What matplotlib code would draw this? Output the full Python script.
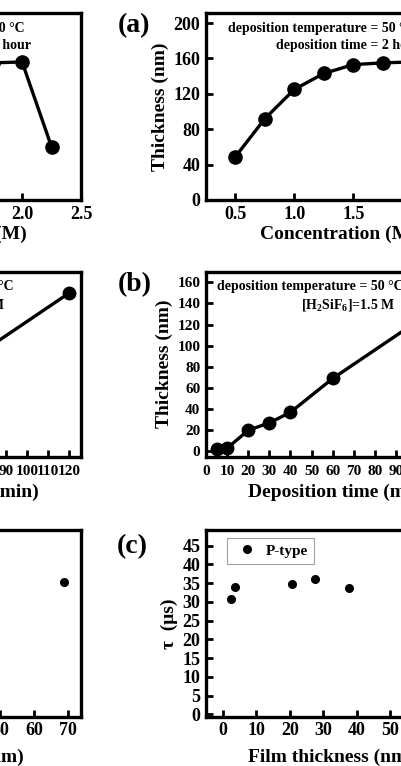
import matplotlib
matplotlib.use('Agg')
import matplotlib.pyplot as plt

plt.rcParams['font.family'] = ['Liberation Serif', 'DejaVu Serif']
plt.rcParams['font.weight'] = 'bold'
plt.rcParams['mathtext.fontset'] = 'custom'
plt.rcParams['mathtext.rm'] = 'Liberation Serif:bold'
plt.rcParams['mathtext.it'] = 'Liberation Serif:bold'
plt.rcParams['mathtext.bf'] = 'Liberation Serif:bold'

# ---- data ----
conc = [0.5, 0.75, 1.0, 1.25, 1.5, 1.75, 2.0, 2.25]
thick_conc = [49, 92, 125, 143, 153, 155, 156, 60]
conc_ticks = [0.5, 1.0, 1.5, 2.0, 2.5]
conc_yticks = [0, 40, 80, 120, 160, 200]

dep_time = [5, 10, 20, 30, 40, 60, 120]
thick_time = [2, 3, 20, 27, 37, 69, 150]
time_ticks = [0, 10, 20, 30, 40, 50, 60, 70, 80, 90, 100, 110, 120]
time_yticks = [0, 20, 40, 60, 80, 100, 120, 140, 160]

film_thick = [2.5, 3.7, 20.5, 27.6, 37.5, 68.8]
lifetime = [30.7, 33.9, 34.9, 36.0, 33.7, 35.4]
film_ticks = [0, 10, 20, 30, 40, 50, 60, 70]
life_yticks = [0, 5, 10, 15, 20, 25, 30, 35, 40, 45]

W, H = 402, 766
fig = plt.figure(figsize=(W / 100, H / 100), dpi=100)

AX_LEFT = 206
AX_W = 265
PERIOD = 390


def make_ax(left, top, bottom):
    return fig.add_axes([left / W, 1 - bottom / H, AX_W / W, (bottom - top) / H])


def style(ax, tick_fs, xpad=4):
    for s in ax.spines.values():
        s.set_linewidth(2.4)
    ax.tick_params(direction='in', length=5, width=2, top=False, right=False,
                   labelsize=tick_fs, pad=4)
    ax.tick_params(axis='x', pad=xpad)
    for lab in ax.get_xticklabels() + ax.get_yticklabels():
        lab.set_fontweight('bold')


def panel_a(ax):
    ax.plot(conc, thick_conc, '-o', color='black', lw=2.4, ms=9.5)
    ax.set_xlim(0.25, 2.5)
    ax.set_ylim(0, 211)
    ax.set_xticks(conc_ticks)
    ax.set_xticklabels([f'{v:.1f}' for v in conc_ticks])
    ax.set_yticks(conc_yticks)
    style(ax, 13)
    ax.set_xlabel('Concentration (M)', fontsize=14, fontweight='bold', labelpad=2)
    ax.set_ylabel('Thickness (nm)', fontsize=14, fontweight='bold', labelpad=3)
    ax.text(0.082, 0.918, 'deposition temperature = 50 °C', transform=ax.transAxes,
            fontsize=10, fontweight='bold', ha='left', va='center')
    ax.text(0.264, 0.825, 'deposition time = 2 hour', transform=ax.transAxes,
            fontsize=10, fontweight='bold', ha='left', va='center')
    ax.text(-0.332, 1.0, '(a)', transform=ax.transAxes, fontsize=20,
            fontweight='bold', ha='left', va='top')


def panel_b(ax):
    ax.plot(dep_time, thick_time, '-o', color='black', lw=2.4, ms=9)
    ax.set_xlim(0, 125.5)
    ax.set_ylim(-5, 170)
    ax.set_xticks(time_ticks)
    ax.set_yticks(time_yticks)
    style(ax, 11, xpad=6)
    ax.set_xlabel('Deposition time (min)', fontsize=14, fontweight='bold', labelpad=4)
    ax.set_ylabel('Thickness (nm)', fontsize=14, fontweight='bold', labelpad=3)
    ax.text(0.040, 0.919, 'deposition temperature = 50 °C', transform=ax.transAxes,
            fontsize=10, fontweight='bold', ha='left', va='center')
    ax.text(0.357, 0.82, r'[H$_2$SiF$_6$]=1.5 M', transform=ax.transAxes,
            fontsize=10, fontweight='bold', ha='left', va='center')
    ax.text(-0.332, 1.0, '(b)', transform=ax.transAxes, fontsize=20,
            fontweight='bold', ha='left', va='top')


def panel_c(ax):
    ax.plot(film_thick, lifetime, 'o', color='black', ms=5.5, label='P-type')
    ax.set_xlim(-5, 74)
    ax.set_ylim(-0.6, 49.2)
    ax.set_xticks(film_ticks)
    ax.set_yticks(life_yticks)
    style(ax, 13)
    ax.set_xlabel('Film thickness (nm)', fontsize=14, fontweight='bold', labelpad=7)
    ax.xaxis.label.set_x(0.47)
    ax.set_ylabel('τ  (μs)', fontsize=14, fontweight='bold', labelpad=3)
    leg = ax.legend(loc='upper left', bbox_to_anchor=(0.078, 0.957), borderaxespad=0,
                    frameon=True, fancybox=False, edgecolor='#888888',
                    prop={'family': 'Liberation Serif', 'weight': 'bold', 'size': 11},
                    handletextpad=0.25, borderpad=0.4, handlelength=1.9)
    leg.get_frame().set_linewidth(0.8)
    ax.text(-0.335, 0.98, '(c)', transform=ax.transAxes, fontsize=20,
            fontweight='bold', ha='left', va='top')


for off in (0, -PERIOD):
    left = AX_LEFT + off
    panel_a(make_ax(left, 13.3, 200))
    panel_b(make_ax(left, 271.7, 456.7))
    panel_c(make_ax(left, 530, 716.7))

fig.savefig('out.png', dpi=100)
